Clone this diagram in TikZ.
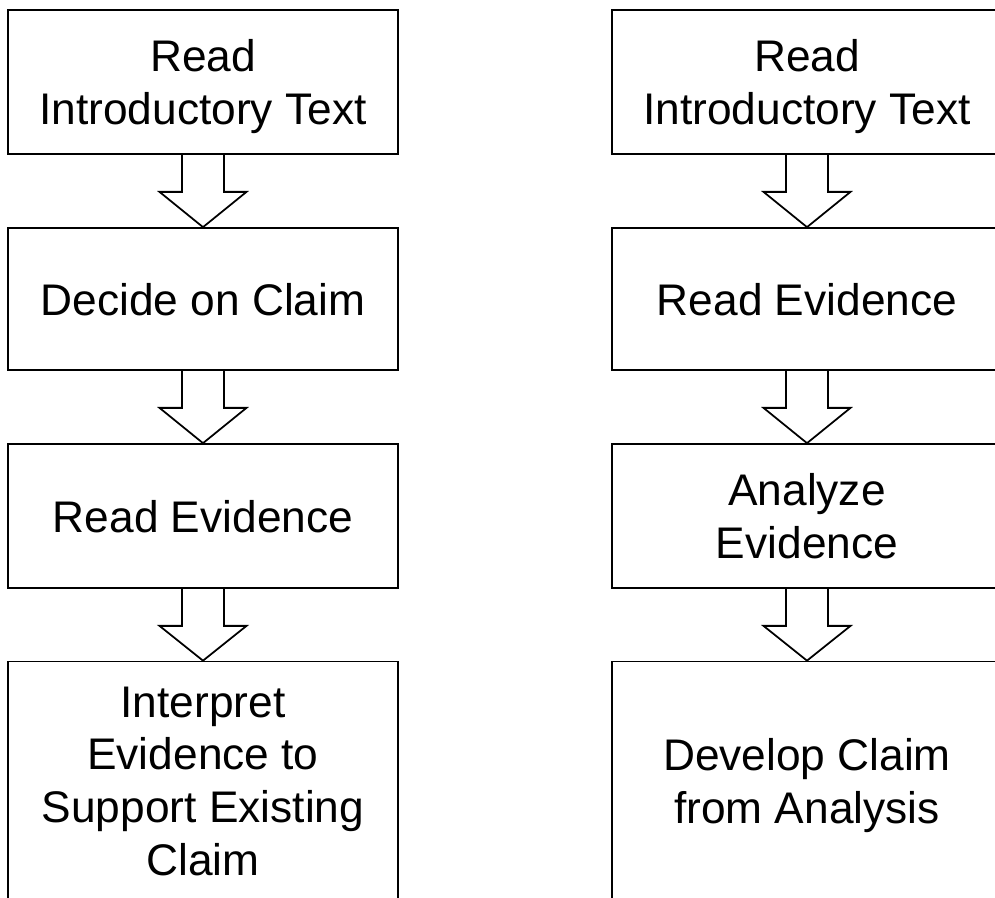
\documentclass[tikz,border=0pt]{standalone}
\usepackage{fontspec}
\setmainfont{Liberation Sans}
\usetikzlibrary{calc}

\tikzset{
  stepbox/.style={draw=black, line width=1pt, minimum width=7.8cm,
    minimum height=#1, inner sep=0pt, align=center, text depth=0pt,
    font=\fontsize{25.2pt}{30pt}\selectfont},
  stepbox/.default=2.88cm,
  hollowarrow/.style={draw=black, line width=1pt, line join=miter},
}

% Hollow block arrow from the bottom of box #1 to the top of box #2
\newcommand{\hollowdown}[2]{%
  \draw[hollowarrow]
    ($(#1.south)+(-21,0)$) -- ($(#1.south)+(-21,37)$)
    -- ($(#1.south)+(-43.5,37)$) -- (#2.north)
    -- ($(#1.south)+(43.5,37)$) -- ($(#1.south)+(21,37)$)
    -- ($(#1.south)+(21,0)$);}

\begin{document}
\begin{tikzpicture}[x=0.02cm, y=-0.02cm]
  \useasboundingbox (0,0) rectangle (995,897);
  \clip (0,0) rectangle (995,897);

  % left column
  \node[stepbox] (l1) at (203,82) {Read\\Introductory Text};
  \node[stepbox=2.84cm] (l2) at (203,299) {Decide on Claim};
  \node[stepbox] (l3) at (203,516) {Read Evidence};
  \node[stepbox=4.78cm] (l4) at (203,781) {Interpret\\Evidence to\\Support Existing\\Claim};

  % right column
  \node[stepbox] (r1) at (807,82) {Read\\Introductory Text};
  \node[stepbox=2.84cm] (r2) at (807,299) {Read Evidence};
  \node[stepbox] (r3) at (807,516) {Analyze\\Evidence};
  \node[stepbox=4.78cm] (r4) at (807,781) {Develop Claim\\from Analysis};

  \hollowdown{l1}{l2}
  \hollowdown{l2}{l3}
  \hollowdown{l3}{l4}
  \hollowdown{r1}{r2}
  \hollowdown{r2}{r3}
  \hollowdown{r3}{r4}
\end{tikzpicture}
\end{document}
